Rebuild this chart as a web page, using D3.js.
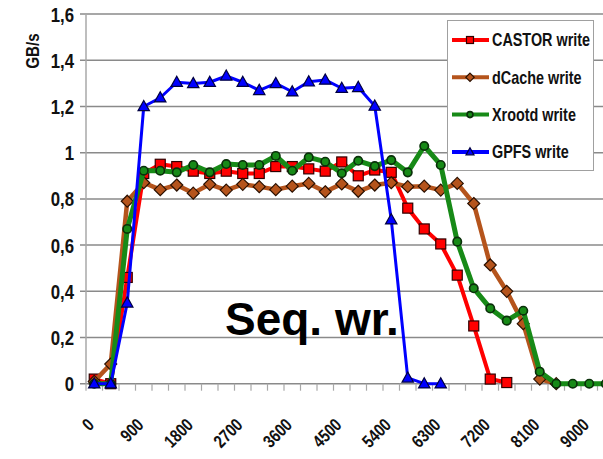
<!DOCTYPE html>
<html>
<head>
<meta charset="utf-8">
<script src="https://cdn.jsdelivr.net/npm/d3@7"></script>
<style>
  html, body { margin: 0; padding: 0; background: #fff; }
  svg { display: block; }
  .narrow { font-family: "Liberation Sans", Arial, sans-serif; font-weight: bold; }
</style>
</head>
<body>
<svg id="chart" width="603" height="459"></svg>
<script>
// ---- data ----
const categories = d3.range(0, 10200, 300); // 0, 300, ... 9900
const xTickLabels = ["0", "900", "1800", "2700", "3600", "4500", "5400", "6300", "7200", "8100", "9000", "9900"];
const yTicks = [0, 0.2, 0.4, 0.6, 0.8, 1, 1.2, 1.4, 1.6];
const yTickLabels = ["0", "0,2", "0,4", "0,6", "0,8", "1", "1,2", "1,4", "1,6"];

const castorWrite = [0.02, 0, 0.46, 0.91, 0.95, 0.94, 0.92, 0.91, 0.92, 0.91, 0.91, 0.94, 0.94, 0.93, 0.92, 0.96, 0.90, 0.925, 0.915, 0.76, 0.67, 0.605, 0.47, 0.25, 0.02, 0.005];
const dCacheWrite = [0.01, 0.085, 0.79, 0.87, 0.84, 0.86, 0.825, 0.863, 0.838, 0.863, 0.853, 0.84, 0.855, 0.867, 0.831, 0.865, 0.833, 0.86, 0.87, 0.853, 0.855, 0.838, 0.867, 0.78, 0.514, 0.40, 0.26, 0.02, 0];
const xrootdWrite = [0, 0, 0.67, 0.922, 0.922, 0.915, 0.947, 0.915, 0.951, 0.947, 0.947, 0.986, 0.922, 0.98, 0.961, 0.911, 0.965, 0.942, 0.968, 0.915, 1.029, 0.947, 0.615, 0.413, 0.326, 0.273, 0.316, 0.052, 0, 0, 0, 0];
const gpfsWrite = [0, 0, 0.35, 1.2, 1.238, 1.305, 1.30, 1.305, 1.332, 1.305, 1.27, 1.30, 1.264, 1.307, 1.315, 1.279, 1.283, 1.202, 0.71, 0.025, 0, 0];

const seriesNames = ["CASTOR write", "dCache write", "Xrootd write", "GPFS write"];
const seriesColors = ["#ff0000", "#b5541c", "#178a17", "#0000ff"];
const seriesStroke = ["#300000", "#2a1000", "#0a300a", "#000040"];
const seriesWidths = [4, 4.5, 5, 3];
const seriesShapes = ["square", "diamond", "circle", "triangle"];
const seriesData = [castorWrite, dCacheWrite, xrootdWrite, gpfsWrite];

// ---- layout ----
const svg = d3.select("#chart");
const step = 16.5;
const x0 = 86;
const narrowScale = 0.8;
const x = d3.scaleBand()
  .domain(categories.map((d, i) => i))
  .range([x0, x0 + step * categories.length])
  .paddingInner(0).paddingOuter(0);
const cx = i => x(i) + x.bandwidth() / 2;
const y = d3.scaleLinear().domain([0, 1.6]).range([383.7, 14.1]);

// gridlines
svg.append("g").selectAll("line").data(yTicks).join("line")
  .attr("x1", 80).attr("x2", 603)
  .attr("y1", d => y(d)).attr("y2", d => y(d))
  .attr("stroke", "#8a8a8a").attr("stroke-width", 1.5);

// vertical axis line
svg.append("line")
  .attr("x1", x0).attr("x2", x0)
  .attr("y1", y(1.6)).attr("y2", y(0))
  .attr("stroke", "#a8a8a8").attr("stroke-width", 1.5);

// x tick marks
svg.append("g").selectAll("line").data(d3.range(categories.length + 1)).join("line")
  .attr("x1", i => x0 + i * x.step()).attr("x2", i => x0 + i * x.step())
  .attr("y1", y(0)).attr("y2", y(0) + 7)
  .attr("stroke", "#a8a8a8").attr("stroke-width", 1.2);

// y tick labels
svg.append("g").selectAll("text").data(yTicks).join("text")
  .attr("class", "narrow")
  .attr("transform", d => `translate(74,${y(d)}) scale(${narrowScale},1)`)
  .attr("dy", "0.36em")
  .attr("text-anchor", "end")
  .attr("font-size", 21)
  .attr("fill", "#111")
  .text((d, i) => yTickLabels[i]);

// y axis title
svg.append("text")
  .attr("class", "narrow")
  .attr("transform", `translate(39,51) rotate(-90) scale(${narrowScale},1)`)
  .attr("text-anchor", "middle")
  .attr("font-size", 19)
  .attr("fill", "#111")
  .text("GB/s");

// x tick labels
const labelIdx = categories.map((d, i) => i).filter(i => categories[i] % 900 === 0);
svg.append("g").selectAll("text").data(labelIdx).join("text")
  .attr("class", "narrow")
  .attr("transform", i => `translate(${cx(i) + 1},${426}) rotate(-45) scale(${narrowScale},1)`)
  .attr("text-anchor", "end")
  .attr("font-size", 18)
  .attr("fill", "#111")
  .text((i, k) => xTickLabels[k]);

// "Seq. wr." annotation
svg.append("text")
  .attr("x", 225).attr("y", 335)
  .attr("font-family", "'Liberation Sans', Arial, sans-serif")
  .attr("font-weight", "bold")
  .attr("font-size", 46)
  .attr("fill", "#000")
  .text("Seq. wr.");

// marker helper
function drawMarker(g, shape, size, fill, stroke, sw) {
  if (shape === "square") {
    g.append("rect").attr("x", -size / 2).attr("y", -size / 2)
      .attr("width", size).attr("height", size)
      .attr("fill", fill).attr("stroke", stroke).attr("stroke-width", sw);
  } else if (shape === "diamond") {
    const s = size * 0.6;
    g.append("path").attr("d", `M0,${-s}L${s},0L0,${s}L${-s},0Z`)
      .attr("fill", fill).attr("stroke", stroke).attr("stroke-width", sw);
  } else if (shape === "circle") {
    g.append("circle").attr("r", size * 0.42)
      .attr("fill", fill).attr("stroke", stroke).attr("stroke-width", sw * 1.4);
  } else {
    const s = size * 0.6;
    g.append("path").attr("d", `M0,${-s}L${s * 0.95},${s * 0.7}L${-s * 0.95},${s * 0.7}Z`)
      .attr("fill", fill).attr("stroke", stroke).attr("stroke-width", sw);
  }
}

// series
const line = d3.line().x((d, i) => cx(i)).y(d => y(d));
seriesData.forEach((data, s) => {
  const g = svg.append("g");
  g.append("path").datum(data)
    .attr("d", line)
    .attr("fill", "none")
    .attr("stroke", seriesColors[s])
    .attr("stroke-width", seriesWidths[s])
    .attr("stroke-linejoin", "round");
  data.forEach((v, i) => {
    const m = g.append("g").attr("transform", `translate(${cx(i)},${y(v)})`);
    drawMarker(m, seriesShapes[s], 10, seriesColors[s], seriesStroke[s], 1.2);
  });
});

// legend
const lg = svg.append("g");
lg.append("rect")
  .attr("x", 447.5).attr("y", 20.5).attr("width", 146).attr("height", 150)
  .attr("fill", "#fff").attr("stroke", "#a0a0a0").attr("stroke-width", 1);
seriesNames.forEach((name, s) => {
  const ly = 40 + s * 37.3;
  lg.append("line")
    .attr("x1", 452).attr("x2", 489).attr("y1", ly).attr("y2", ly)
    .attr("stroke", seriesColors[s]).attr("stroke-width", 4);
  const m = lg.append("g").attr("transform", `translate(470,${ly})`);
  drawMarker(m, seriesShapes[s], 7, seriesColors[s], seriesStroke[s], 1.2);
  lg.append("text")
    .attr("class", "narrow")
    .attr("transform", `translate(492,${ly}) scale(${narrowScale},1)`)
    .attr("dy", "0.36em")
    .attr("font-size", 18)
    .attr("fill", "#111")
    .text(name);
});
</script>
</body>
</html>
